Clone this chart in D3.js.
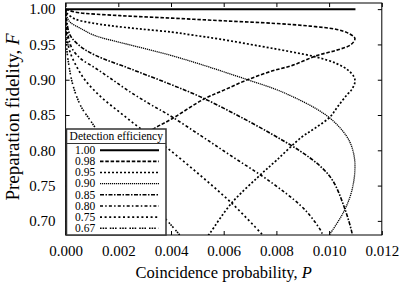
<!DOCTYPE html>
<html><head><meta charset="utf-8">
<script src="https://cdn.jsdelivr.net/npm/d3@7"></script>
<style>
body{margin:0;background:#fff}
</style>
</head><body>
<svg id="chart" width="399" height="283"></svg>
<script>
// ---------- data (P = coincidence probability, F = preparation fidelity) ----------
const xTicks = [0, 0.002, 0.004, 0.006, 0.008, 0.010, 0.012];
const yTicks = [0.70, 0.75, 0.80, 0.85, 0.90, 0.95, 1.00];
const efficiencies = ["1.00", "0.98", "0.95", "0.90", "0.85", "0.80", "0.75", "0.67"];

const curve100 = [[0,1],[0.011,1]];
const curve098 = [[0,1],[0.00037,0.99575],[0.00207,0.99079],[0.00404,0.98725],[0.00586,0.98371],[0.00795,0.97975],[0.00928,0.97592],[0.01029,0.97125],[0.01072,0.96601],[0.01098,0.9585],[0.01083,0.94972],[0.01029,0.94193],[0.00953,0.93414],[0.00863,0.92068],[0.00776,0.91147],[0.00687,0.89943],[0.00605,0.88598],[0.00521,0.87181],[0.00408,0.84561],[0.0032,0.8272],[0.00225,0.80028],[0.00169,0.77904],[0.00112,0.74363]];
const curve095 = [[0,1],[0.00005,0.99433],[0.00037,0.98584],[0.00093,0.98088],[0.00169,0.97663],[0.00282,0.97195],[0.00404,0.96742],[0.00484,0.96317],[0.00586,0.95751],[0.00738,0.94759],[0.00852,0.9398],[0.00953,0.93201],[0.01029,0.9228],[0.01072,0.9136],[0.01095,0.90368],[0.01098,0.8966],[0.01087,0.88669],[0.01067,0.87819],[0.01034,0.86261],[0.01003,0.84703],[0.00947,0.83144],[0.00896,0.8187],[0.00801,0.78612],[0.0073,0.76204],[0.0063,0.72521],[0.00548,0.68272],[0.00529,0.6728]];
const curve090 = [[0,1],[0.00003,0.9915],[0.00017,0.98159],[0.00055,0.97309],[0.00112,0.96246],[0.00233,0.95042],[0.00396,0.93484],[0.0051,0.9221],[0.00687,0.90042],[0.00795,0.88669],[0.00863,0.87578],[0.00947,0.85977],[0.01003,0.84561],[0.01049,0.82861],[0.01079,0.81161],[0.01095,0.79178],[0.01098,0.77195],[0.01091,0.75071],[0.01079,0.73371],[0.01053,0.71105],[0.01003,0.6813],[0.00984,0.67139]];
const curve085 = [[0,1],[0.00003,0.98725],[0.00017,0.96317],[0.00055,0.94759],[0.00112,0.93484],[0.00244,0.91572],[0.00396,0.89377],[0.0051,0.87606],[0.00643,0.85127],[0.00776,0.82436],[0.0089,0.79887],[0.00966,0.77762],[0.01015,0.75637],[0.0106,0.71671],[0.01087,0.68272],[0.01098,0.65864],[0.01095,0.63739]];
const curve080 = [[0,1],[0.00003,0.98159],[0.00009,0.96317],[0.00024,0.94476],[0.00055,0.93059],[0.00113,0.91643],[0.00169,0.90227],[0.0024,0.88385],[0.0032,0.86544],[0.00396,0.84915],[0.0051,0.82153],[0.00624,0.7932],[0.00776,0.75575],[0.0089,0.72238],[0.00935,0.70397],[0.00973,0.68272],[0.00985,0.6657]];
const curve075 = [[0,1],[0.00003,0.97734],[0.00007,0.95609],[0.00017,0.93909],[0.00042,0.91856],[0.00074,0.89943],[0.00131,0.87677],[0.00207,0.8534],[0.00282,0.83144],[0.00381,0.80453],[0.0051,0.76487],[0.0063,0.72521],[0.00745,0.6813],[0.00776,0.66856]];
const curve067 = [[0,1],[0.00002,0.97025],[0.00005,0.94193],[0.00013,0.91926],[0.00023,0.89943],[0.0004,0.87819],[0.00062,0.85977],[0.00093,0.84278],[0.00119,0.82861],[0.00169,0.80312],[0.00244,0.76487],[0.0032,0.72946],[0.00377,0.70397],[0.00427,0.68272],[0.00453,0.66997]];

const curves = [curve100, curve098, curve095, curve090, curve085, curve080, curve075, curve067];
const dashes = ["none", "3.5,1.8", "2,2", "1.2,0.8", "4,1.5,1.5,1.5", "3,2.2,1.5,2.2", "2,2.6", "1.6,1,1.6,1,1.6,3"];
const widths = [2, 1.6, 1.7, 1.3, 1.6, 1.6, 1.7, 1.6];

// ---------- layout ----------
const FONT = "Liberation Serif, Times New Roman, serif";
const L = 65.6, R = 381.8, T = 3, B = 235;
const svg = d3.select("#chart");
const x = d3.scaleLinear().domain([0, 0.012]).range([L, R]);
const y = d3.scaleLinear().domain([0.68, 1.0087]).range([B, T]);

svg.append("defs").append("clipPath").attr("id","clip")
  .append("rect").attr("x",L).attr("y",T).attr("width",R-L).attr("height",B-T);

// axes (inner ticks on all sides)
const tickLen = 4;
function styleAxis(g){
  g.attr("font-family", FONT);
  g.select(".domain").remove();
  g.selectAll("text").attr("font-family", FONT).attr("font-size", 15).attr("fill","#000");
  g.selectAll("line").attr("stroke","#000");
}
svg.append("g").attr("transform",`translate(0,${B})`)
  .call(d3.axisBottom(x).tickValues(xTicks).tickFormat(d3.format(".3f")).tickSize(-tickLen).tickPadding(10))
  .call(styleAxis);
svg.append("g").attr("transform",`translate(0,${T})`)
  .call(d3.axisTop(x).tickValues(xTicks).tickSize(-tickLen).tickFormat(""))
  .call(styleAxis);
svg.append("g").attr("transform",`translate(${L},0)`)
  .call(d3.axisLeft(y).tickValues(yTicks).tickFormat(d3.format(".2f")).tickSize(-tickLen).tickPadding(10))
  .call(styleAxis);
svg.append("g").attr("transform",`translate(${R},0)`)
  .call(d3.axisRight(y).tickValues(yTicks).tickSize(-tickLen).tickFormat(""))
  .call(styleAxis);

// curves
const line = d3.line().x(d=>x(d[0])).y(d=>y(d[1])).curve(d3.curveCatmullRom.alpha(0.5));
svg.append("g").attr("clip-path","url(#clip)")
  .selectAll("path").data(curves).join("path")
  .attr("d", line)
  .attr("fill","none").attr("stroke","#000")
  .attr("stroke-width",(d,i)=>widths[i])
  .attr("stroke-dasharray",(d,i)=>dashes[i]);

// frame
svg.append("rect").attr("x",L).attr("y",T).attr("width",R-L).attr("height",B-T)
  .attr("fill","none").attr("stroke","#000").attr("stroke-width",1);

// legend
const lg = svg.append("g").attr("font-family", FONT);
const lx = 66.5, ly = 129, lw = 99.5, lh = 106;
lg.append("rect").attr("x",lx).attr("y",ly).attr("width",lw).attr("height",lh)
  .attr("fill","#fff").attr("stroke","#333").attr("stroke-width",1.5);
lg.append("line").attr("x1",lx).attr("x2",lx+lw).attr("y1",143.5).attr("y2",143.5)
  .attr("stroke","#333").attr("stroke-width",1.2);
lg.append("text").attr("x",lx+lw/2).attr("y",140.3).attr("text-anchor","middle")
  .attr("font-family", FONT).attr("font-size",11.5).text("Detection efficiency");
efficiencies.forEach((e,i)=>{
  const yy = 150.2 + i*11.15;
  lg.append("text").attr("x",75).attr("y",yy+3.8).attr("font-family", FONT).attr("font-size",11.5).text(e);
  lg.append("line").attr("x1",100).attr("x2",159).attr("y1",yy).attr("y2",yy)
    .attr("stroke","#000").attr("stroke-width",widths[i]).attr("stroke-dasharray",dashes[i]);
});

// axis titles
const xt = svg.append("text").attr("x",(L+R)/2).attr("y",278).attr("text-anchor","middle")
  .attr("font-family", FONT).attr("font-size",16.5);
xt.append("tspan").text("Coincidence probability, ");
xt.append("tspan").attr("font-style","italic").text("P");
const yt = svg.append("text").attr("transform",`translate(19,117) rotate(-90)`).attr("text-anchor","middle")
  .attr("font-family", FONT).attr("font-size",19);
yt.append("tspan").text("Preparation fidelity, ");
yt.append("tspan").attr("font-style","italic").text("F");
</script>
</body></html>
